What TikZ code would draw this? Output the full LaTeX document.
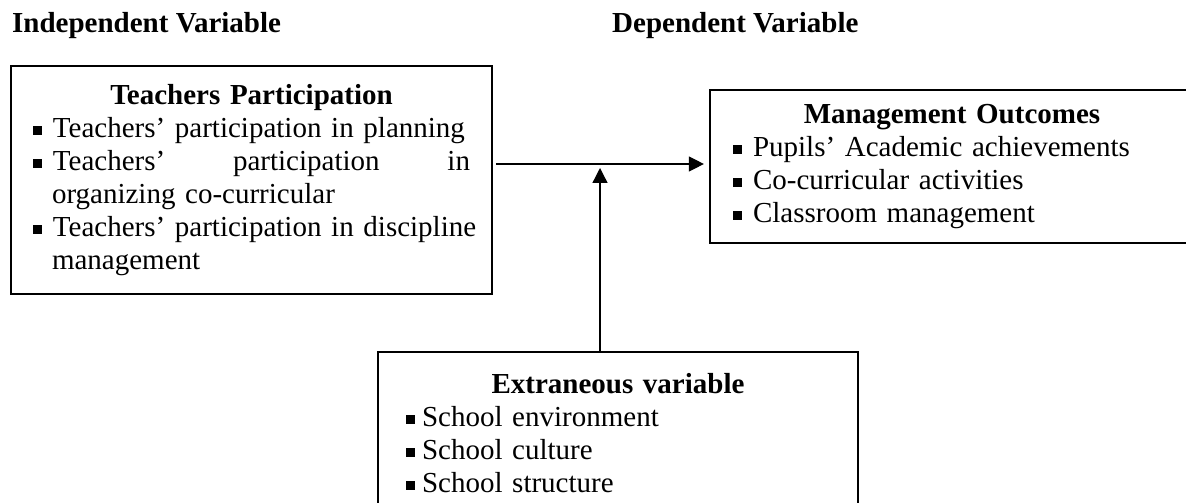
\documentclass[tikz,border=0pt]{standalone}
\usepackage{fontspec}
\setmainfont{Liberation Serif}
\usetikzlibrary{arrows.meta}

\newcommand{\sqbul}{\rule[2.5pt]{9pt}{9pt}}
\newcommand{\bitem}[2][11pt]{\makebox[\linewidth][l]{\sqbul\hspace{#1}#2}}
\newcommand{\bcont}[1]{\makebox[\linewidth][l]{\hspace{19pt}#1}}

\begin{document}
\begin{tikzpicture}[x=1pt,y=1pt,>={Triangle[length=15pt,width=15pt]},
    varbox/.style={draw,line width=2.2pt,align=center,inner xsep=0pt,
      font=\fontsize{29}{33}\selectfont},
    head/.style={anchor=base west,inner sep=0pt,font=\fontsize{29}{33}\selectfont\bfseries},
    flow/.style={->,line width=1.3pt}]
    \useasboundingbox (0,0) rectangle (1186,503);

    \node[head] (indhead) at (12,470) {Independent Variable};
    \node[head] (dephead) at (612,470) {Dependent Variable};

    \node[varbox,text width=437pt,minimum width=481pt,minimum height=228pt] (indep) at (251.5,323) {%
      \textbf{Teachers Participation}\\
      \bitem{Teachers’ participation in planning}\\
      \makebox[\linewidth][s]{\sqbul\hspace{11pt}Teachers’\hfill participation\hfill in}\\
      \bcont{organizing co-curricular}\\
      \bitem{Teachers’ participation in discipline}\\
      \bcont{management}};

    \node[varbox,text width=438pt,minimum width=484pt,minimum height=153pt] (outc) at (952,336.5) {%
      \textbf{Management Outcomes}\\
      \bitem{Pupils’ Academic achievements}\\
      \bitem{Co-curricular activities}\\
      \bitem{Classroom management}};

    \node[varbox,text width=424pt,minimum width=480pt,minimum height=162pt] (extr) at (618,70) {%
      \textbf{Extraneous variable}\\
      \bitem[7pt]{School environment}\\
      \bitem[7pt]{School culture}\\
      \bitem[7pt]{School structure}};

    % arrows
    \coordinate (join) at (600,339);
    \draw[flow,shorten <=3pt,shorten >=5pt] (indep.east |- join) -- (outc.west |- join);
    \draw[flow,shorten >=4pt] (extr.north -| join) -- (join);
\end{tikzpicture}
\end{document}
